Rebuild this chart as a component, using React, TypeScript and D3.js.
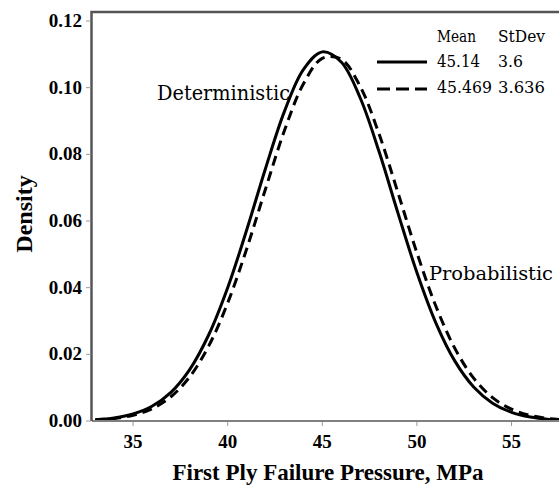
import React from "react";
import * as d3 from "d3";

const pressure = [33, 34, 35, 36, 37, 38, 39, 40, 41, 42, 43, 44, 45, 46, 47, 48, 49, 50, 51, 52, 53, 54, 55, 56, 57, 58];
const deterministic = [0.000376, 0.000923, 0.002099, 0.004415, 0.008597, 0.015502, 0.025877, 0.039987, 0.057207, 0.075757, 0.092874, 0.105401, 0.110736, 0.107703, 0.096974, 0.080827, 0.06237, 0.044552, 0.029462, 0.018036, 0.01022, 0.005361, 0.002604, 0.001171, 0.000487, 0.000188];
const probabilistic = [0.000307, 0.000758, 0.001738, 0.003696, 0.00728, 0.013306, 0.022539, 0.035401, 0.051554, 0.069606, 0.087129, 0.10112, 0.108811, 0.108556, 0.100412, 0.086114, 0.068473, 0.050476, 0.0345, 0.021862, 0.012844, 0.006997, 0.003534, 0.001655, 0.000718, 0.000289];
const xTicks = [35, 40, 45, 50, 55];
const yTicks = [0, 0.02, 0.04, 0.06, 0.08, 0.1, 0.12];
const legendRows = [
  { mean: "45.14", sd: "3.6", dash: "none" },
  { mean: "45.469", sd: "3.636", dash: "13 6" },
];

const W = 559;
const H = 486;
const left = 92;
const right = 559;
const top = 12;
const bottom = 421;
const serif = "Times New Roman, Liberation Serif, Times, serif";
const plainSerif = "DejaVu Serif, Liberation Serif, serif";

function Plain(props: { x: number; y: number; size: number; len: number; children: string }) {
  return (
    <text
      x={props.x}
      y={props.y}
      fontFamily={plainSerif}
      fontSize={props.size}
      textLength={props.len}
      lengthAdjust="spacingAndGlyphs"
    >
      {props.children}
    </text>
  );
}

export default function App() {
  const x = d3.scaleLinear().domain([32.83, 57.51]).range([left, right]);
  const y = d3.scaleLinear().domain([0, 0.12]).range([bottom, 21]);
  const line = d3
    .line<number>()
    .x((_, i) => x(pressure[i]))
    .y((d) => y(d))
    .curve(d3.curveCatmullRom.alpha(0.5));

  return (
    <svg
      width={W}
      height={H}
      style={{ position: "absolute", left: 0, top: 0, background: "#fff" }}
    >
      <defs>
        <clipPath id="plot">
          <rect x={left} y={top} width={right - left} height={bottom - top + 2} />
        </clipPath>
      </defs>
      <rect width={W} height={H} fill="#fff" />
      <g clipPath="url(#plot)">
        <path d={line(deterministic) || ""} fill="none" stroke="#000" strokeWidth={3} />
        <path
          d={line(probabilistic) || ""}
          fill="none"
          stroke="#000"
          strokeWidth={3}
          strokeDasharray="10 6"
        />
      </g>
      <line x1={left} x2={right} y1={bottom} y2={bottom} stroke="#808080" strokeWidth={2} />
      <path d={`M${left - 0.5},${bottom} V${top} H${right}`} fill="none" stroke="#555" strokeWidth={2.5} />
      {yTicks.map((t) => (
        <g key={t}>
          <line x1={left - 6} x2={left - 1} y1={y(t)} y2={y(t)} stroke="#999" strokeWidth={1} />
          <text
            x={82}
            y={y(t) + 6}
            textAnchor="end"
            fontFamily={serif}
            fontWeight="bold"
            fontSize={19}
          >
            {t.toFixed(2)}
          </text>
        </g>
      ))}
      {xTicks.map((t) => (
        <g key={t}>
          <line x1={x(t)} x2={x(t)} y1={bottom + 1} y2={bottom + 5} stroke="#999" strokeWidth={1} />
          <text
            x={x(t)}
            y={448}
            textAnchor="middle"
            fontFamily={serif}
            fontWeight="bold"
            fontSize={19}
          >
            {t}
          </text>
        </g>
      ))}
      <text
        x={328}
        y={480}
        textAnchor="middle"
        fontFamily={serif}
        fontWeight="bold"
        fontSize={23}
      >
        First Ply Failure Pressure, MPa
      </text>
      <text
        transform="translate(32,214) rotate(-90)"
        textAnchor="middle"
        fontFamily={serif}
        fontWeight="bold"
        fontSize={24}
      >
        Density
      </text>
      <Plain x={157} y={100} size={21} len={133}>Deterministic</Plain>
      <Plain x={429} y={280} size={19} len={124}>Probabilistic</Plain>
      <Plain x={437} y={42} size={16} len={39}>Mean</Plain>
      <Plain x={498} y={42} size={16} len={47}>StDev</Plain>
      {legendRows.map((r, i) => {
        const by = 67 + i * 26;
        return (
          <g key={r.mean}>
            <line
              x1={377}
              x2={427}
              y1={by - 5 + i}
              y2={by - 5 + i}
              stroke="#000"
              strokeWidth={3}
              strokeDasharray={r.dash}
            />
            <Plain x={437} y={by} size={16} len={i === 0 ? 43 : 55}>{r.mean}</Plain>
            <Plain x={498} y={by} size={16} len={i === 0 ? 25 : 47}>{r.sd}</Plain>
          </g>
        );
      })}
    </svg>
  );
}
